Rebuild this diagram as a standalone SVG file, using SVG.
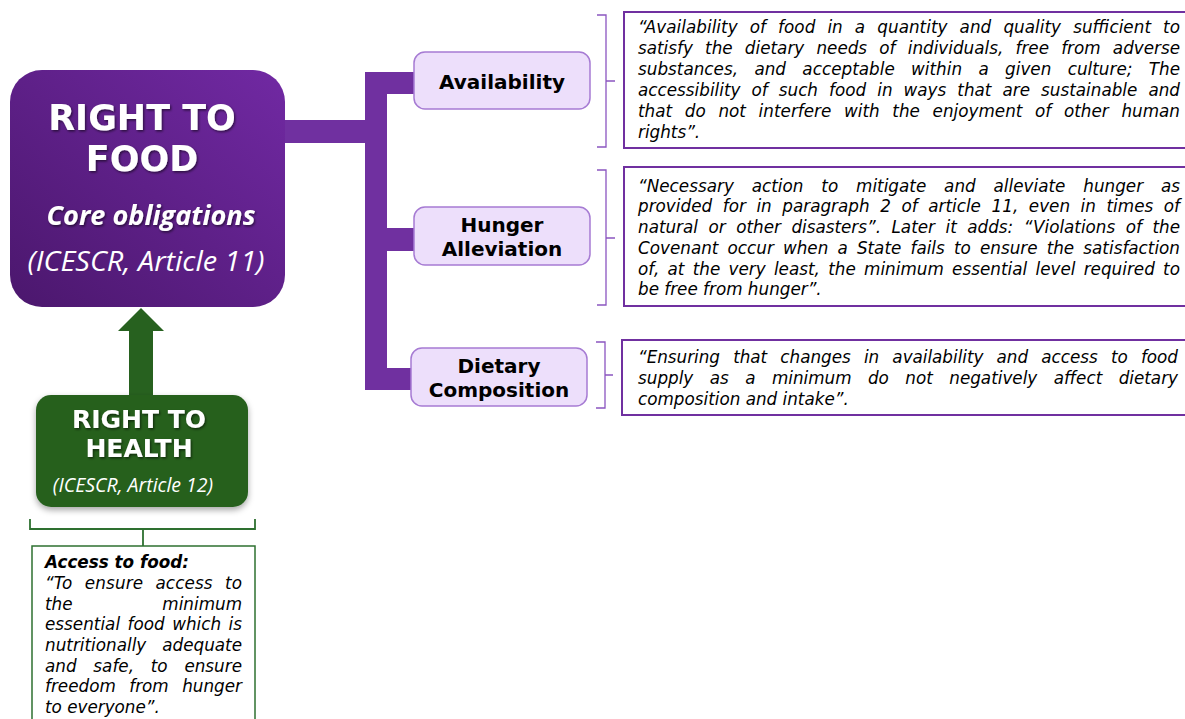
<svg xmlns="http://www.w3.org/2000/svg" width="1185" height="719" viewBox="0 0 1185 719">
<defs>
<linearGradient id="gMain" x1="1" y1="0" x2="0" y2="1">
<stop offset="0" stop-color="#7129A3"/>
<stop offset="1" stop-color="#4B176D"/>
</linearGradient>
<filter id="tsh" x="-10%" y="-20%" width="130%" height="150%">
<feDropShadow dx="1.2" dy="1.5" stdDeviation="0.8" flood-color="#000" flood-opacity="0.55"/>
</filter>
<filter id="bsh" x="-10%" y="-10%" width="120%" height="130%">
<feDropShadow dx="0" dy="3" stdDeviation="3" flood-color="#000" flood-opacity="0.35"/>
</filter>
</defs>
<style>
.conn{fill:#7030A0;stroke:none}
.sub{fill:#EDDFFB;stroke:#A67BD3;stroke-width:1.5}
.subt{font-family:"DejaVu Sans",Verdana,sans-serif;font-weight:bold;font-size:20px;fill:#000;text-anchor:middle}
.brace{fill:none;stroke:#8B55C0;stroke-width:1.3}
.qbox{fill:#fff;stroke:#7030A0;stroke-width:2}
.q{font-family:"DejaVu Sans",Verdana,sans-serif;font-style:italic;font-size:16.8px;fill:#000}
.big{font-family:"DejaVu Sans",Verdana,sans-serif;font-weight:bold;fill:#fff;text-anchor:middle}
.it{font-family:"Open Sans","Noto Sans",sans-serif;font-style:italic;fill:#fff;text-anchor:middle}
.gq{font-family:"DejaVu Sans",Verdana,sans-serif;font-style:italic;font-size:16.8px;fill:#000}
</style>

<g id="connectors">
<path class="conn" d="M285 120 H365 V72 H415 V94 H387 V228 H415 V251 H387 V368 H412 V390 H365 V143 H285 Z"/>
<path fill="#27611F" d="M129 397 V331 H118 L141 308 L164 331 H153 V397 Z"/>
<path class="brace" d="M597 15 H606 V81 M606 81 H615 M606 81 V147 H597"/>
<path class="brace" d="M597 170 H606 V238 M606 238 H615 M606 238 V305 H597"/>
<path class="brace" d="M596 342 H605 V375 M605 375 H613 M605 375 V408 H596"/>
<path d="M30 519 V529 H255 V519 M143 529 V546" fill="none" stroke="#2E7030" stroke-width="1.8"/>
</g>

<g id="right-to-food">
<rect x="10" y="70" width="275" height="237" rx="32" fill="url(#gMain)"/>
<g filter="url(#tsh)">
<text class="big" x="142" y="130" font-size="35">RIGHT TO</text>
<text class="big" x="142" y="171" font-size="35">FOOD</text>
<text class="it" x="151" y="225" font-size="26" font-weight="bold" textLength="209" lengthAdjust="spacingAndGlyphs">Core obligations</text>
</g>
<text class="it" x="146" y="271" font-size="28" textLength="237" lengthAdjust="spacingAndGlyphs">(ICESCR, Article 11)</text>
</g>

<g id="availability">
<rect class="sub" x="414" y="52" width="176" height="57" rx="11"/>
<text class="subt" x="502" y="89">Availability</text>
</g>
<g id="hunger-alleviation">
<rect class="sub" x="414" y="207" width="176" height="58" rx="11"/>
<text class="subt" x="502" y="232">Hunger</text>
<text class="subt" x="502" y="256">Alleviation</text>
</g>
<g id="dietary-composition">
<rect class="sub" x="411" y="348" width="176" height="58" rx="11"/>
<text class="subt" x="499" y="373">Dietary</text>
<text class="subt" x="499" y="397">Composition</text>
</g>

<g id="availability-quote">
<rect class="qbox" x="624" y="12" width="580" height="136"/>
<text class="q" x="638" y="33" word-spacing="6.7" textLength="542" lengthAdjust="spacing">“Availability of food in a quantity and quality sufficient to</text>
<text class="q" x="638" y="54" word-spacing="6.9" textLength="542" lengthAdjust="spacing">satisfy the dietary needs of individuals, free from adverse</text>
<text class="q" x="638" y="75" word-spacing="11" textLength="542" lengthAdjust="spacing">substances, and acceptable within a given culture; The</text>
<text class="q" x="638" y="96" word-spacing="5.7" textLength="542" lengthAdjust="spacing">accessibility of such food in ways that are sustainable and</text>
<text class="q" x="638" y="117" word-spacing="7.3" textLength="542" lengthAdjust="spacing">that do not interfere with the enjoyment of other human</text>
<text class="q" x="638" y="138">rights”.</text>
</g>

<g id="hunger-quote">
<rect class="qbox" x="624" y="167" width="580" height="139"/>
<text class="q" x="638" y="192" word-spacing="12.5" textLength="542" lengthAdjust="spacing">“Necessary action to mitigate and alleviate hunger as</text>
<text class="q" x="638" y="212" word-spacing="5.2" textLength="542" lengthAdjust="spacing">provided for in paragraph 2 of article 11, even in times of</text>
<text class="q" x="638" y="233" word-spacing="5.2" textLength="542" lengthAdjust="spacing">natural or other disasters”. Later it adds: “Violations of the</text>
<text class="q" x="638" y="254" word-spacing="3.8" textLength="542" lengthAdjust="spacing">Covenant occur when a State fails to ensure the satisfaction</text>
<text class="q" x="638" y="275" word-spacing="2.9" textLength="542" lengthAdjust="spacing">of, at the very least, the minimum essential level required to</text>
<text class="q" x="638" y="295">be free from hunger”.</text>
</g>

<g id="dietary-quote">
<rect class="qbox" x="622" y="340" width="580" height="75"/>
<text class="q" x="638" y="363" word-spacing="7.9" textLength="540" lengthAdjust="spacing">“Ensuring that changes in availability and access to food</text>
<text class="q" x="638" y="384" word-spacing="11.1" textLength="540" lengthAdjust="spacing">supply as a minimum do not negatively affect dietary</text>
<text class="q" x="638" y="405">composition and intake”.</text>
</g>

<g id="right-to-health">
<rect x="36" y="395" width="212" height="112" rx="15" fill="#27611F" filter="url(#bsh)"/>
<g filter="url(#tsh)">
<text class="big" x="139" y="428" font-size="25">RIGHT TO</text>
<text class="big" x="139" y="457" font-size="25">HEALTH</text>
</g>
<text class="it" x="133" y="492" font-size="19.5">(ICESCR, Article 12)</text>
</g>

<g id="access-to-food">
<rect x="32" y="546" width="223" height="190" fill="#fff" stroke="#2E7030" stroke-width="1.5"/>
<text class="gq" x="45" y="568" font-weight="bold">Access to food:</text>
<text class="gq" x="45" y="589" word-spacing="6.9" textLength="197" lengthAdjust="spacing">“To ensure access to</text>
<text class="gq" x="45" y="610">the</text>
<text class="gq" x="242" y="610" text-anchor="end">minimum</text>
<text class="gq" x="45" y="630" word-spacing="2.1" textLength="197" lengthAdjust="spacing">essential food which is</text>
<text class="gq" x="45" y="651" word-spacing="10.6" textLength="197" lengthAdjust="spacing">nutritionally adequate</text>
<text class="gq" x="45" y="672" word-spacing="11.4" textLength="197" lengthAdjust="spacing">and safe, to ensure</text>
<text class="gq" x="45" y="692" word-spacing="8.1" textLength="197" lengthAdjust="spacing">freedom from hunger</text>
<text class="gq" x="45" y="713">to everyone”.</text>
</g>
</svg>
